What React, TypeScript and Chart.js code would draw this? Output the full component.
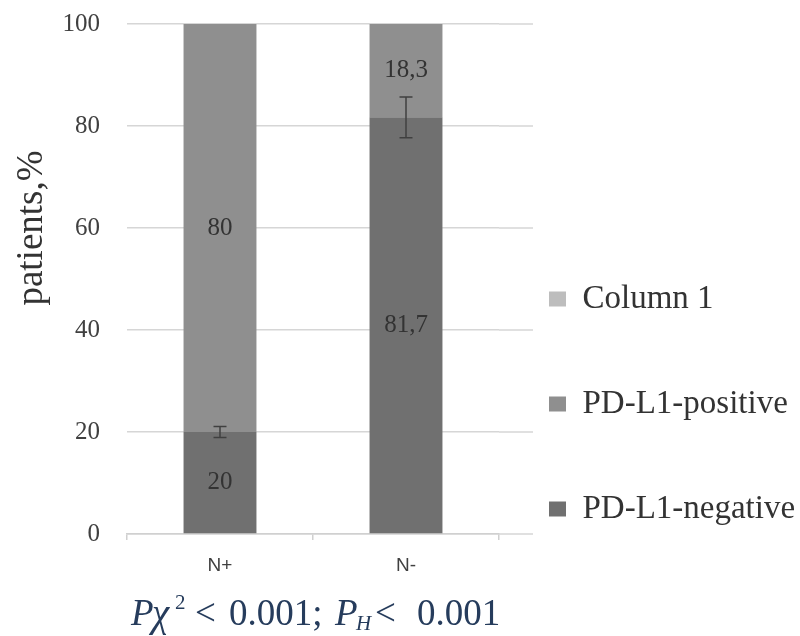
import React, { useEffect, useRef } from 'react';
import { Chart, registerables } from 'chart.js';

Chart.register(...registerables);

// ---- data ----
const categories = ['N+', 'N-'];
const negativeValues = [20, 81.7];
const positiveValues = [80, 18.3];
const column1Values: (number | null)[] = [null, null];
const negativeErrors = [1.1, 4];
const seriesNames = ['PD-L1-negative', 'PD-L1-positive', 'Column 1'];
const yMin = 0;
const yMax = 100;
const yStep = 20;
const yTitle = 'patients,%';

const SERIF = '"Liberation Serif", "Times New Roman", serif';
const SANS = '"Liberation Sans", Arial, sans-serif';
const LEGEND_PAD = ' '.repeat(48);

const extendGridPlugin = {
  id: 'extendGrid',
  beforeDatasetsDraw(chart: any) {
    const { ctx, chartArea, scales } = chart;
    const y = scales.y;
    ctx.save();
    ctx.strokeStyle = '#d6d6d6';
    ctx.lineWidth = 1.5;
    y.ticks.forEach((t: any) => {
      const py = y.getPixelForValue(t.value);
      ctx.beginPath();
      ctx.moveTo(chartArea.right, py);
      ctx.lineTo(chartArea.right + 34, py);
      ctx.stroke();
    });
    ctx.restore();
  },
};

const labelsPlugin = {
  id: 'valueLabels',
  afterDatasetsDraw(chart: any) {
    const { ctx, scales } = chart;
    ctx.save();
    ctx.font = `25px ${SERIF}`;
    ctx.fillStyle = '#333333';
    ctx.textAlign = 'center';
    ctx.textBaseline = 'middle';
    [0, 1].forEach((di) => {
      const meta = chart.getDatasetMeta(di);
      meta.data.forEach((bar: any, i: number) => {
        const v = chart.data.datasets[di].data[i];
        if (v == null) return;
        const p = bar.getProps(['x', 'y', 'base'], true);
        ctx.fillText(String(v).replace('.', ','), p.x, (p.y + p.base) / 2);
      });
    });
    // error bars on top of the negative segment
    const meta0 = chart.getDatasetMeta(0);
    ctx.strokeStyle = '#404040';
    ctx.lineWidth = 1.5;
    meta0.data.forEach((bar: any, i: number) => {
      const v = negativeValues[i];
      const e = negativeErrors[i];
      const yTop = scales.y.getPixelForValue(v + e);
      const yBot = scales.y.getPixelForValue(v - e);
      const x = bar.x;
      const c = 6.5;
      ctx.beginPath();
      ctx.moveTo(x, yTop);
      ctx.lineTo(x, yBot);
      ctx.moveTo(x - c, yTop);
      ctx.lineTo(x + c, yTop);
      ctx.moveTo(x - c, yBot);
      ctx.lineTo(x + c, yBot);
      ctx.stroke();
    });
    ctx.restore();
  },
};

const yTitlePlugin = {
  id: 'yTitle',
  afterDraw(chart: any) {
    const { ctx, chartArea } = chart;
    ctx.save();
    ctx.translate(42, chartArea.top + 204);
    ctx.rotate(-Math.PI / 2);
    ctx.font = `37px ${SERIF}`;
    ctx.fillStyle = '#333333';
    ctx.textAlign = 'center';
    ctx.textBaseline = 'alphabetic';
    ctx.fillText(yTitle, 0, 0);
    ctx.restore();
  },
};

const footStyle: React.CSSProperties = { position: 'absolute', whiteSpace: 'nowrap' };

export default function App() {
  const canvasRef = useRef<HTMLCanvasElement | null>(null);

  useEffect(() => {
    if (!canvasRef.current) return;
    const chart = new Chart(canvasRef.current, {
      type: 'bar',
      data: {
        labels: categories,
        datasets: [
          { label: seriesNames[0], data: negativeValues, backgroundColor: '#707070', borderWidth: 0 },
          { label: seriesNames[1], data: positiveValues, backgroundColor: '#8f8f8f', borderWidth: 0 },
          { label: seriesNames[2], data: column1Values as any, backgroundColor: '#bdbdbd', borderWidth: 0 },
        ],
      },
      options: {
        responsive: false,
        animation: false,
        devicePixelRatio: 1,
        datasets: { bar: { categoryPercentage: 1, barPercentage: 0.392 } },
        layout: { padding: { top: 24, right: 0, bottom: 0, left: 0 } },
        scales: {
          x: {
            stacked: true,
            afterFit: (s: any) => { s.height = 102; },
            grid: { drawOnChartArea: false, drawTicks: true, tickLength: 6, color: '#d0d0d0', lineWidth: 1.5 },
            border: { display: true, color: '#d0d0d0', width: 1.5 },
            ticks: { color: '#404040', font: { family: SANS, size: 19 }, padding: 14.5 },
          },
          y: {
            stacked: true,
            min: yMin,
            max: yMax,
            afterFit: (s: any) => { s.width = 127; s.paddingTop = 0; s.paddingBottom = 0; },
            grid: { color: '#d6d6d6', lineWidth: 1.5, drawTicks: false },
            border: { display: false },
            ticks: { stepSize: yStep, color: '#404040', font: { family: SERIF, size: 25 }, padding: 27 },
          },
        },
        plugins: {
          tooltip: { enabled: false },
          legend: {
            position: 'right',
            reverse: true,
            align: 'center',
            maxWidth: 301,
            title: { display: true, text: '', padding: { top: 160, bottom: 0 }, font: { size: 10, lineHeight: 1 } },
            labels: {
              boxWidth: 17,
              boxHeight: 15,
              padding: 50,
              color: '#333333',
              font: { family: SERIF, size: 33, lineHeight: 27.5 / 33 },
              generateLabels: (c: any) =>
                (Chart.defaults.plugins.legend.labels.generateLabels as any)(c).map((l: any) => ({
                  ...l,
                  text: [l.text, LEGEND_PAD],
                })),
            },
          },
        },
      } as any,
      plugins: [extendGridPlugin, labelsPlugin, yTitlePlugin],
    });
    return () => chart.destroy();
  }, []);

  return (
    <div style={{ position: 'absolute', left: 0, top: 0, width: 800, height: 636, background: '#ffffff', overflow: 'hidden' }}>
      <canvas ref={canvasRef} width={800} height={636} style={{ display: 'block' }} />
      <div
        style={{
          position: 'absolute',
          left: 0,
          top: 594,
          width: 800,
          height: 40,
          fontFamily: SERIF,
          fontSize: 37,
          lineHeight: 1,
          color: '#263c5c',
        }}
      >
        <span style={{ ...footStyle, left: 131 }}><i>P</i></span>
        <span style={{ ...footStyle, left: 152, fontSize: 39, top: -1 }}><i>χ</i></span>
        <span style={{ ...footStyle, left: 175, top: -2.5, fontSize: 21 }}>2</span>
        <span style={{ ...footStyle, left: 195 }}>&lt;</span>
        <span style={{ ...footStyle, left: 229 }}>0.001;</span>
        <span style={{ ...footStyle, left: 335 }}><i>P</i></span>
        <span style={{ ...footStyle, left: 356, top: 19, fontSize: 21 }}><i>H</i></span>
        <span style={{ ...footStyle, left: 375 }}>&lt;</span>
        <span style={{ ...footStyle, left: 417 }}>0.001</span>
      </div>
    </div>
  );
}
